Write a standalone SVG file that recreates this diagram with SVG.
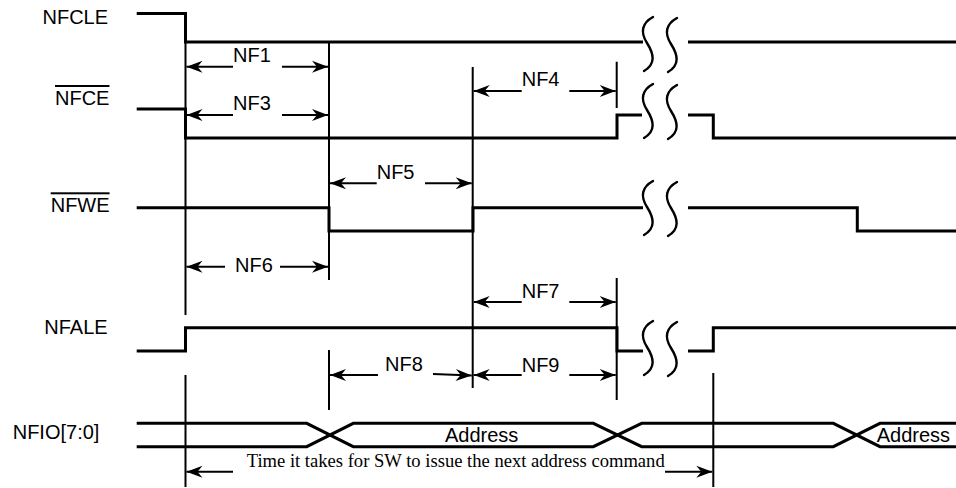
<svg xmlns="http://www.w3.org/2000/svg" width="956" height="488" viewBox="0 0 956 488">
<style>
.sig{fill:none;stroke:#000;stroke-width:3;stroke-linejoin:miter;stroke-linecap:butt}
.ref{fill:none;stroke:#000;stroke-width:2}
.dim{fill:none;stroke:#000;stroke-width:2;marker-end:url(#ah)}
.brk{fill:none;stroke:#000;stroke-width:2.4;stroke-linecap:round}
.lbl{font-family:"Liberation Sans",Arial,sans-serif;font-size:20px;fill:#000}
.ser{font-family:"Liberation Serif","Times New Roman",serif;font-size:18px;fill:#000}
</style>
<defs>
<marker id="ah" markerUnits="userSpaceOnUse" viewBox="-17 -7 18 14" refX="0" refY="0" markerWidth="18" markerHeight="14" orient="auto">
<path d="M0,0 L-16,-6 L-11,0 L-16,6 Z" fill="#000"/>
</marker>
<path id="s" d="M6,-27 C-5,-21 -7,-12 0,-1 C7,10 9,20 -3,27"/>
<g id="brkmark"><use href="#s" x="0" y="0"/><use href="#s" x="24" y="1"/></g>
</defs>
<rect width="956" height="488" fill="#fff"/>

<g id="nfcle">
<text class="lbl" x="42.5" y="24">NFCLE</text>
<path class="sig" d="M136.7,13.5 H185.5 V42 H643 M688,42 H956"/>
<use class="brk" href="#brkmark" x="647" y="44"/>
</g>

<g id="nfce">
<text class="lbl" x="55" y="105" text-decoration="overline">NFCE</text>
<path class="sig" d="M136.7,109 H185.5 V138 H617 V115 H642 M688,115 H713.3 V138 H956"/>
<use class="brk" href="#brkmark" x="647" y="111"/>
</g>

<g id="nfwe">
<text class="lbl" x="50.7" y="212.3" text-decoration="overline">NFWE</text>
<path class="sig" d="M136.7,207.7 H329 V231 H473 V207.7 H643 M688,207.7 H857.3 V231 H956"/>
<use class="brk" href="#brkmark" x="647" y="208"/>
</g>

<g id="nfale">
<text class="lbl" x="44.3" y="334.3">NFALE</text>
<path class="sig" d="M136.7,351 H185.5 V327.7 H617 V351 H643 M688,351 H713.3 V327.7 H956"/>
<use class="brk" href="#brkmark" x="647" y="348"/>
</g>

<g id="nfio">
<text class="lbl" x="12.7" y="439">NFIO[7:0]</text>
<path class="sig" d="M136.7,423.3 H306.7 L353.3,446.7 H593.3 L641.7,423.3 H833.3 L880,446.7 H956"/>
<path class="sig" d="M136.7,446.7 H306.7 L353.3,423.3 H593.3 L641.7,446.7 H833.3 L880,423.3 H956"/>
<text class="lbl" x="445" y="441.7">Address</text>
<text class="lbl" x="876.7" y="441.7">Address</text>
</g>

<g id="connectors">
<path class="ref" d="M185.5,42 V315 M185.5,375 V487 M329,42 V280 M329,350 V410 M472.7,67 V388 M616.7,61.7 V108 M616.7,278 V400 M713.3,373 V487"/>
<line class="dim" x1="233" y1="66.7" x2="186.5" y2="66.7"/>
<line class="dim" x1="282" y1="66.7" x2="328" y2="66.7"/>
<line class="dim" x1="233" y1="115" x2="186.5" y2="115"/>
<line class="dim" x1="282" y1="115" x2="328" y2="115"/>
<line class="dim" x1="521.7" y1="91" x2="473.7" y2="91"/>
<line class="dim" x1="569.3" y1="91" x2="615.7" y2="91"/>
<line class="dim" x1="376.7" y1="183.3" x2="330" y2="183.3"/>
<line class="dim" x1="425" y1="183.3" x2="471.7" y2="183.3"/>
<line class="dim" x1="225" y1="266.7" x2="186.5" y2="266.7"/>
<line class="dim" x1="280" y1="266.7" x2="328" y2="266.7"/>
<line class="dim" x1="521.7" y1="302" x2="473.7" y2="302"/>
<line class="dim" x1="569.3" y1="302" x2="615.7" y2="302"/>
<line class="dim" x1="378" y1="375" x2="330" y2="375"/>
<line class="dim" x1="433" y1="374" x2="471.7" y2="375.5"/>
<line class="dim" x1="521.7" y1="375" x2="473.7" y2="375"/>
<line class="dim" x1="569.3" y1="375" x2="615.7" y2="375"/>
<line class="dim" x1="233" y1="471.7" x2="186.5" y2="471.7"/>
<line class="dim" x1="665" y1="471.7" x2="712.3" y2="471.7"/>
</g>

<g id="labels">
<text class="lbl" x="233" y="62">NF1</text>
<text class="lbl" x="233" y="110">NF3</text>
<text class="lbl" x="521.7" y="86">NF4</text>
<text class="lbl" x="376.7" y="178.5">NF5</text>
<text class="lbl" x="235" y="271.7">NF6</text>
<text class="lbl" x="521.7" y="298">NF7</text>
<text class="lbl" x="385" y="371">NF8</text>
<text class="lbl" x="521.7" y="371.7">NF9</text>
<text class="ser" x="246.7" y="467.3" textLength="418" lengthAdjust="spacingAndGlyphs">Time it takes for SW to issue the next address command</text>
</g>
</svg>
